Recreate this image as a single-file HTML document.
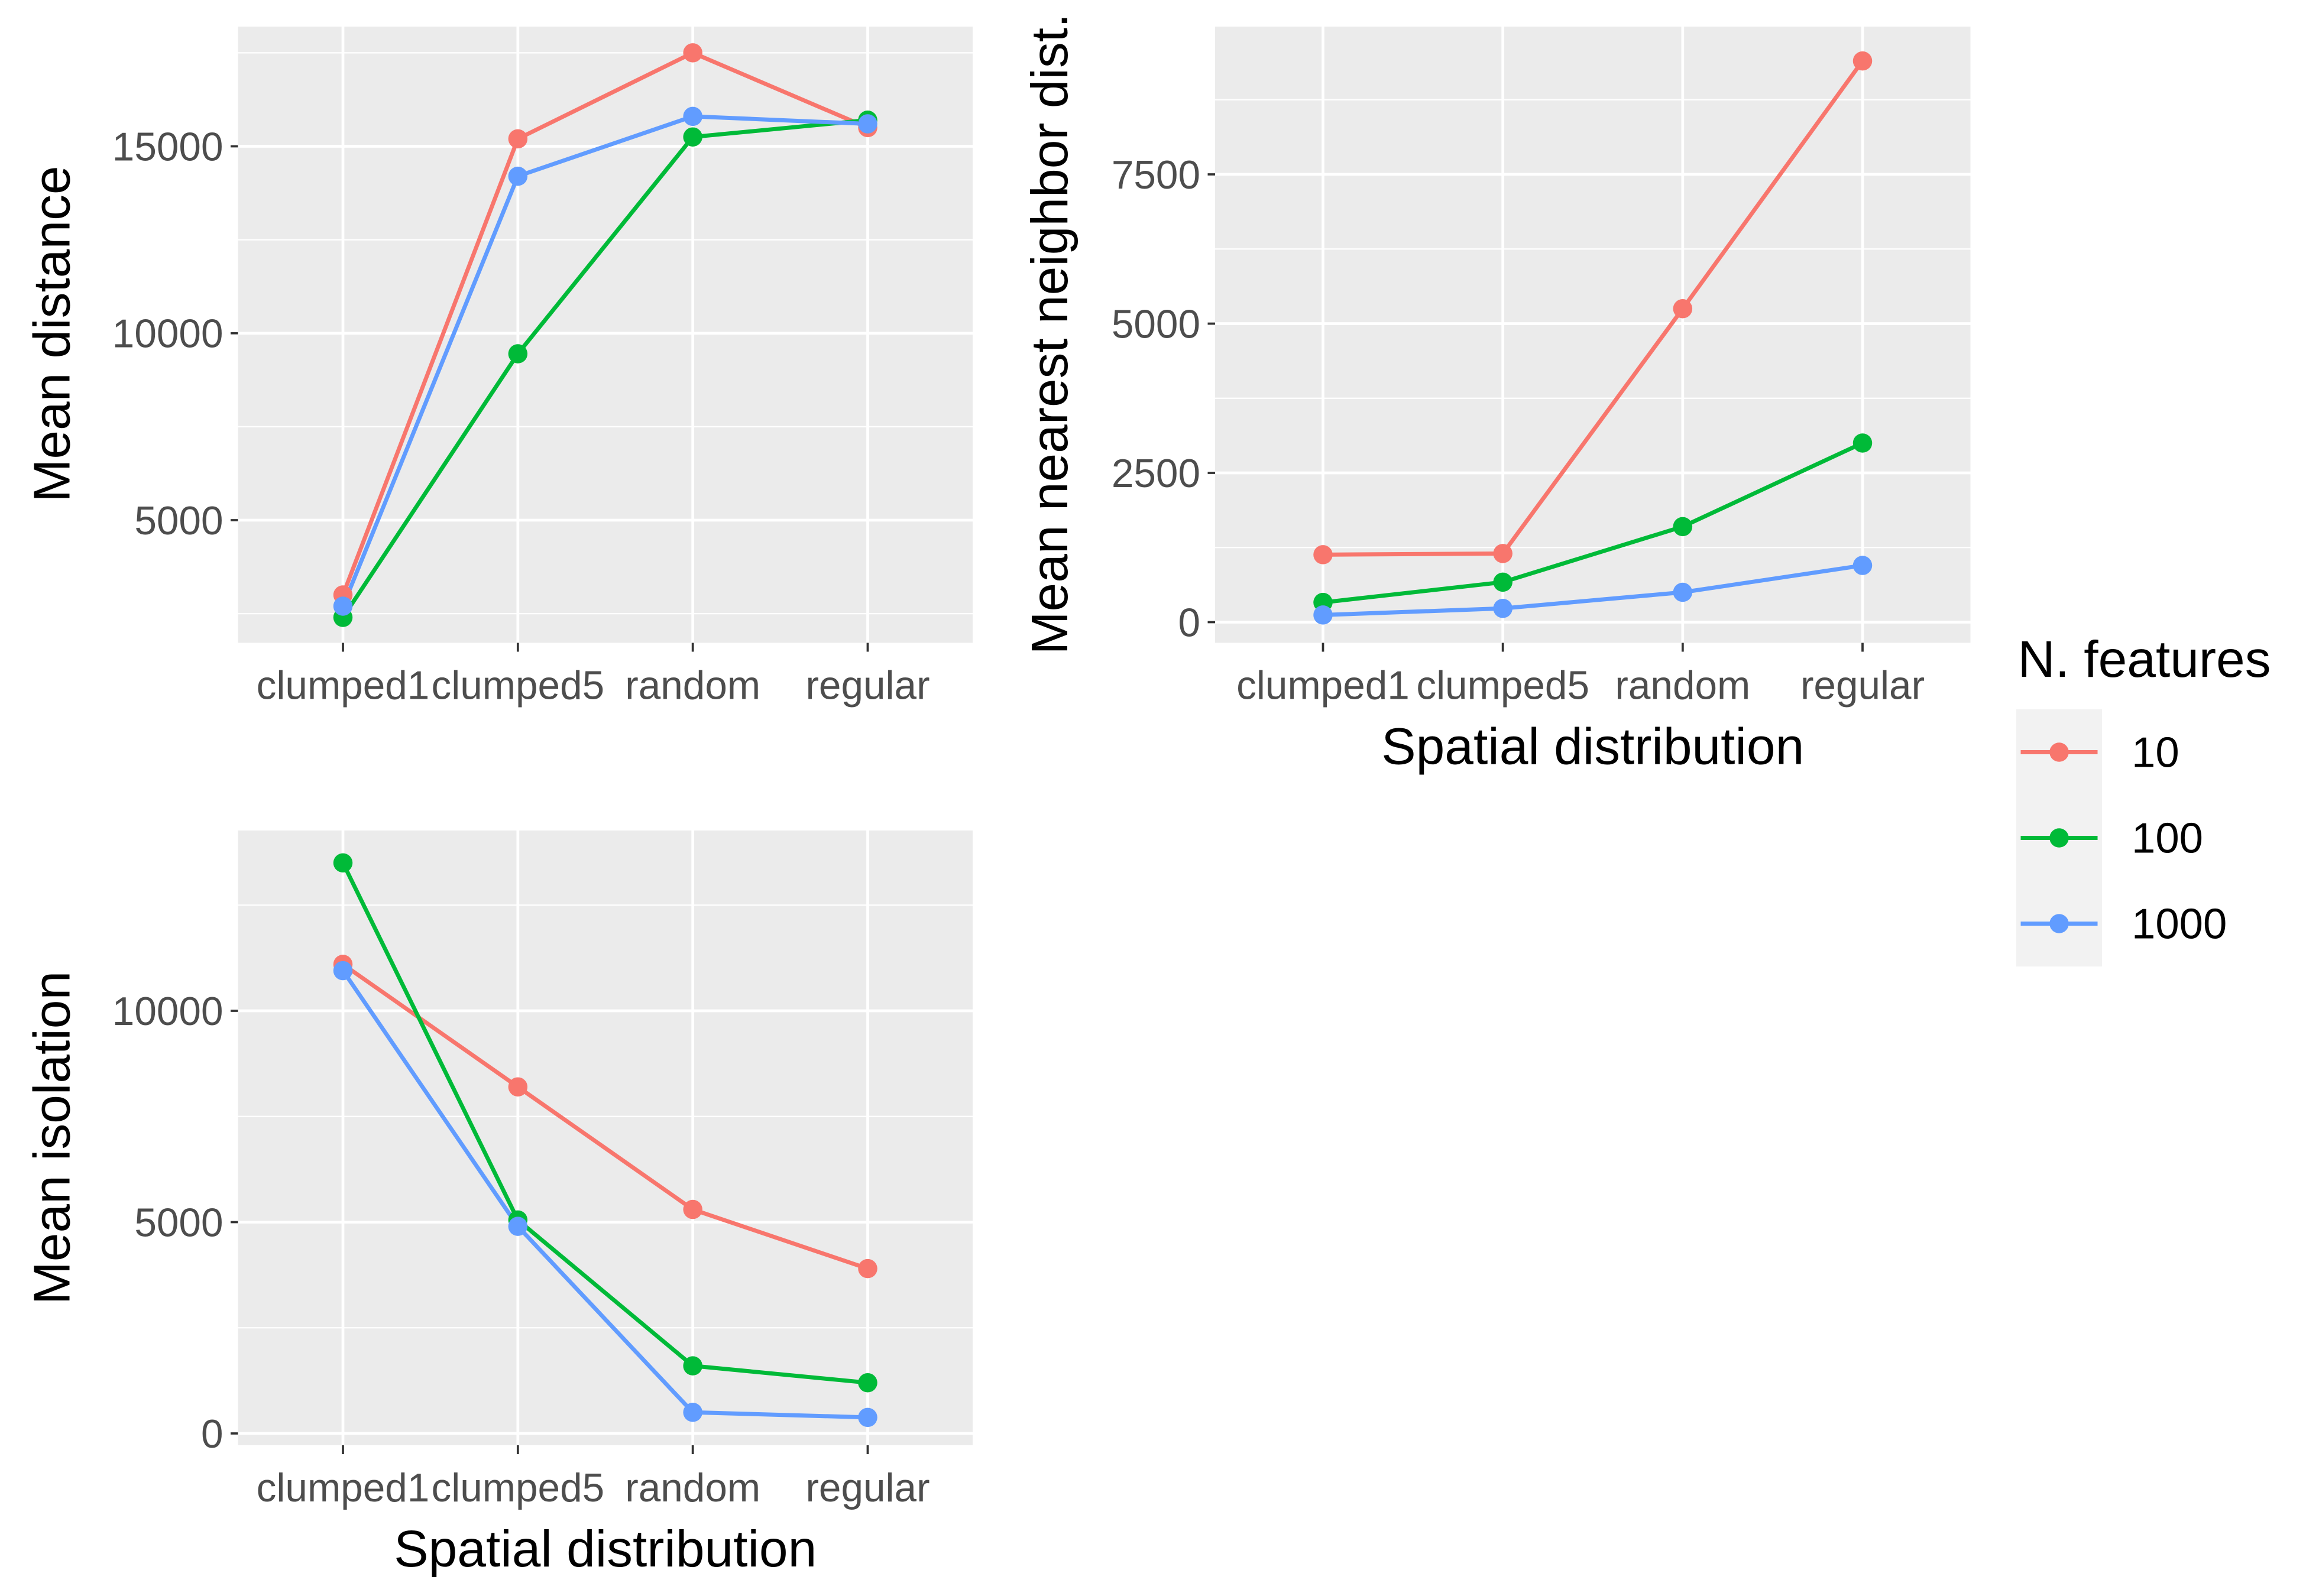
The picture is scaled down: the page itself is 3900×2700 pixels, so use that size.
<!DOCTYPE html>
<html><head><meta charset="utf-8">
<style>
html,body{margin:0;padding:0;background:#fff;}
svg{display:block;}
text{font-family:"Liberation Sans",Arial,sans-serif;}
</style></head>
<body>
<svg id="chart" width="3900" height="2700" viewBox="0 0 1560 1080" xmlns="http://www.w3.org/2000/svg"></svg>
<script>
const categories = ["clumped1","clumped5","random","regular"];
const seriesNames = ["10","100","1000"];
const colors = ["#F8766D","#00BA38","#619CFF"];
// Panel 1: Mean distance
const dist10 = [3000,15200,17500,15500];
const dist100 = [2400,9450,15250,15700];
const dist1000 = [2700,14200,15800,15600];
const distTicks = [5000,10000,15000];
// Panel 2: Mean nearest neighbor dist.
const nn10 = [1130,1150,5250,9400];
const nn100 = [330,670,1600,3000];
const nn1000 = [120,230,500,950];
const nnTicks = [0,2500,5000,7500];
// Panel 3: Mean isolation
const iso10 = [11100,8200,5300,3900];
const iso100 = [13500,5050,1600,1200];
const iso1000 = [10950,4900,500,380];
const isoTicks = [0,5000,10000];

const NS="http://www.w3.org/2000/svg";
const svg=document.getElementById('chart');
function el(tag,attrs,parent){const e=document.createElementNS(NS,tag);for(const k in attrs)e.setAttribute(k,attrs[k]);(parent||svg).appendChild(e);return e;}

function panel(cfg){
  const g=el('g',{});
  
  
  const {x0,x1,y0,y1,vmin,vmax}=cfg;
  const yS=v=>y1-(v-vmin)/(vmax-vmin)*(y1-y0);
  const n=categories.length;
  const step=(x1-x0)/(n-1+1.2);
  const xS=i=>x0+step*0.6+i*step;
  const bg=el('rect',{x:x0,y:y0,width:x1-x0,height:y1-y0,fill:'#EBEBEB'},g);
  
  
  const t=cfg.ticks, d=t[1]-t[0];
  for(let v=t[0]-d/2; v<=vmax; v+=d){ if(v<vmin) continue;
    el('line',{x1:x0,x2:x1,y1:yS(v),y2:yS(v),stroke:'#fff','stroke-width':0.9},g);}
  t.forEach(v=>{
    const y=yS(v);
    el('line',{x1:x0,x2:x1,y1:y,y2:y,stroke:'#fff','stroke-width':1.9},g);
    el('line',{x1:x0-5,x2:x0,y1:y,y2:y,stroke:'#333','stroke-width':1.5},g);
    const tx=el('text',{x:x0-10,y:y+9.5,'text-anchor':'end','font-size':27,fill:'#4D4D4D'},g);
    tx.textContent=v;
    
    
  });
  categories.forEach((c,i)=>{
    const x=xS(i);
    el('line',{x1:x,x2:x,y1:y0,y2:y1,stroke:'#fff','stroke-width':1.9},g);
    el('line',{x1:x,x2:x,y1:y1,y2:y1+6,stroke:'#333','stroke-width':1.5},g);
    const tx=el('text',{x:x,y:y1+38,'text-anchor':'middle','font-size':27,fill:'#4D4D4D'},g);
    tx.textContent=c;
    
    
  });
  cfg.series.forEach((s,si)=>{
    const pts=s.map((v,i)=>xS(i)+','+yS(v)).join(' ');
    const pl=el('polyline',{points:pts,fill:'none',stroke:colors[si],'stroke-width':2.8},g);
    
    
  });
  cfg.series.forEach((s,si)=>{
    s.forEach((v,i)=>{
      const c=el('circle',{cx:xS(i),cy:yS(v),r:6.5,fill:colors[si]},g);
      
      
    });
  });
  const yt=el('text',{x:0,y:0,'text-anchor':'middle','font-size':35,fill:'#000',transform:`translate(${cfg.ytx},${cfg.yty}) rotate(-90)`},g);
  yt.textContent=cfg.ytitle;
  
  
  if(cfg.xtitle){
    const xt=el('text',{x:(x0+x1)/2,y:y1+82,'text-anchor':'middle','font-size':35,fill:'#000'},g);
    xt.textContent='Spatial distribution';
    
    
  }
}
panel({name:'panel-mean-distance',x0:161,x1:658,y0:18,y1:435,vmin:15000-(435-99)/126.5*5000,vmax:15000+(99-18)/126.5*5000,ticks:distTicks,series:[dist10,dist100,dist1000],ytitle:'Mean distance',ytx:47,yty:226,xtitle:false});
panel({name:'panel-nearest-neighbor',x0:822,x1:1333,y0:18,y1:435,vmin:-(435-421)/101*2500,vmax:(421-18)/101*2500,ticks:nnTicks,series:[nn10,nn100,nn1000],ytitle:'Mean nearest neighbor dist.',ytx:722,yty:226,xtitle:true});
panel({name:'panel-mean-isolation',x0:161,x1:658,y0:562,y1:978,vmin:-(978-970)/143*5000,vmax:(970-562)/143*5000,ticks:isoTicks,series:[iso10,iso100,iso1000],ytitle:'Mean isolation',ytx:47,yty:770,xtitle:true});

// legend
const lg=el('g',{});


const lt=el('text',{x:1365,y:458,'font-size':35,fill:'#000'},lg);
lt.textContent='N. features';


el('rect',{x:1364,y:480,width:58,height:174,fill:'#F2F2F2'},lg);
seriesNames.forEach((s,i)=>{
  const y=509+i*58;
  const e=el('g',{},lg);
  
  
  el('line',{x1:1367,x2:1419,y1:y,y2:y,stroke:colors[i],'stroke-width':2.8},e);
  el('circle',{cx:1393,cy:y,r:6.5,fill:colors[i]},e);
  const t=el('text',{x:1442,y:y+10,'font-size':29,fill:'#000'},e);
  t.textContent=s;
});
</script>
</body></html>
